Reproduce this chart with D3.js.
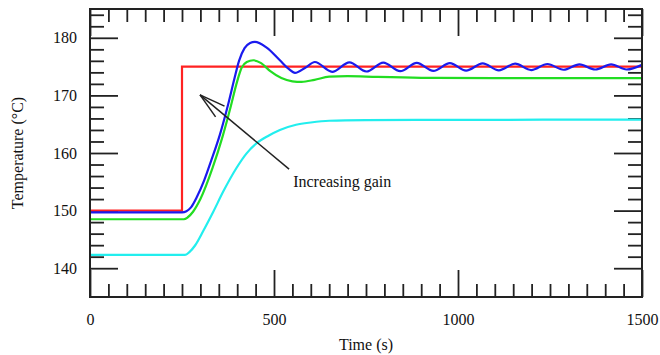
<!DOCTYPE html>
<html>
<head>
<meta charset="utf-8">
<script src="https://cdn.jsdelivr.net/npm/d3@7"></script>
<style>
  body { margin: 0; background: #fff; }
</style>
</head>
<body>
<div id="chart"></div>
<script>
var svgWidth = 660;
var svgHeight = 355;

var margin = { top: 9, right: 18, bottom: 58, left: 90 };
var width = svgWidth - margin.left - margin.right;
var height = svgHeight - margin.top - margin.bottom;

var serif = "'Liberation Serif', 'Times New Roman', 'DejaVu Serif', serif";

// setpoint (step at t = 250 s)
var setpointTime = [0, 250, 1500];
var setpointTemp = [150, 175, 175];

// highest gain, keeps oscillating
var blueTime = [0, 250, 262, 275, 290, 310, 330, 353, 376, 392, 405, 420, 435, 448, 480, 516, 540, 557, 585,
  611, 658, 705, 751, 797, 843, 888, 933, 978, 1022, 1067, 1111, 1155, 1199, 1243, 1287, 1330, 1373, 1416, 1458, 1500];
var blueTemp = [149.7, 149.7, 149.9, 150.6, 152.3, 155.2, 158.8, 163.2, 168.6, 172.8, 176.0, 178.2, 179.1, 179.3, 178.3, 176.1, 174.6, 173.9, 174.8,
  175.8, 174.1, 175.75, 174.15, 175.7, 174.2, 175.65, 174.25, 175.6, 174.3, 175.55, 174.35, 175.5, 174.4, 175.45, 174.45, 175.4, 174.5, 175.4, 174.5, 175.3];

// medium gain
var greenTime = [0, 255, 265, 280, 300, 333, 360, 383, 398, 412, 426, 444, 465, 490, 520, 550, 575, 610, 650, 700, 780, 900, 1100, 1500];
var greenTemp = [148.5, 148.5, 148.8, 149.8, 152.0, 157.4, 162.8, 168.2, 172.0, 174.8, 175.8, 176.1, 175.6, 174.2, 173.0, 172.45, 172.35, 172.7, 173.25, 173.35, 173.2, 173.05, 173.0, 173.0];

// lowest gain
var cyanTime = [0, 258, 270, 285, 308, 335, 362, 398, 425, 453, 485, 516, 560, 600, 650, 750, 1000, 1500];
var cyanTemp = [142.3, 142.3, 142.8, 143.9, 146.5, 149.8, 153.3, 157.4, 159.9, 161.7, 163.0, 164.0, 164.9, 165.3, 165.6, 165.7, 165.75, 165.8];

var xMajorTicks = [0, 500, 1000, 1500];
var yMajorTicks = [140, 150, 160, 170, 180];
var xMinorTicks = d3.range(50, 1500, 50).filter(d => d % 500 != 0);
var yMinorTicks = d3.range(142, 185, 2).filter(d => d % 10 != 0);

// annotation: arrow from label toward curves
var arrowFrom = [541, 157.2];
var arrowTo = [299, 170.1];
var noteAt = [552, 154.1];
var noteText = "Increasing gain";

function zip(ts, vs) {
  return ts.map((t, i) => [t, vs[i]]);
}

var svg = d3.select("#chart")
  .append("svg")
  .attr("width", svgWidth)
  .attr("height", svgHeight)
  .style("font-family", serif);

var chartGroup = svg.append("g")
  .attr("transform", `translate(${margin.left}, ${margin.top})`);

var xScale = d3.scaleLinear().domain([0, 1500]).range([0, width]);
var yScale = d3.scaleLinear().domain([135, 185]).range([height, 0]);

// ticks on all four sides, pointing inward
function drawAxis(axis, transform) {
  var g = chartGroup.append("g")
    .attr("transform", transform)
    .call(axis);
  g.select(".domain").remove();
  g.selectAll(".tick line").attr("stroke", "#222").attr("stroke-width", 1.8);
  g.selectAll("text")
    .style("font-family", serif)
    .style("font-size", "16px")
    .attr("fill", "#111");
  return g;
}

drawAxis(d3.axisBottom(xScale).tickValues(xMinorTicks).tickSize(-13).tickFormat(""), `translate(0,${height})`);
drawAxis(d3.axisBottom(xScale).tickValues(xMajorTicks).tickSize(-27).tickPadding(17).tickFormat(d3.format("d")), `translate(0,${height})`);
drawAxis(d3.axisTop(xScale).tickValues(xMinorTicks).tickSize(-13).tickFormat(""), "translate(0,0)");
drawAxis(d3.axisTop(xScale).tickValues(xMajorTicks).tickSize(-27).tickFormat(""), "translate(0,0)");

drawAxis(d3.axisLeft(yScale).tickValues(yMinorTicks).tickSize(-14).tickFormat(""), "translate(0,0)");
drawAxis(d3.axisLeft(yScale).tickValues(yMajorTicks).tickSize(-28).tickPadding(13).tickFormat(d3.format("d")), "translate(0,0)");
drawAxis(d3.axisRight(yScale).tickValues(yMinorTicks).tickSize(-14).tickFormat(""), `translate(${width},0)`);
drawAxis(d3.axisRight(yScale).tickValues(yMajorTicks).tickSize(-28).tickFormat(""), `translate(${width},0)`);

// curves
var line = d3.line()
  .x(d => xScale(d[0]))
  .y(d => yScale(d[1]))
  .curve(d3.curveMonotoneX);

var stepLine = d3.line()
  .x(d => xScale(d[0]))
  .y(d => yScale(d[1]))
  .curve(d3.curveStepAfter);

chartGroup.append("path")
  .attr("d", stepLine(zip(setpointTime, setpointTemp)))
  .attr("fill", "none").attr("stroke", "#ff2222").attr("stroke-width", 2.2);

chartGroup.append("path")
  .attr("d", line(zip(cyanTime, cyanTemp)))
  .attr("fill", "none").attr("stroke", "#22eeee").attr("stroke-width", 2.2);

chartGroup.append("path")
  .attr("d", line(zip(greenTime, greenTemp)))
  .attr("fill", "none").attr("stroke", "#22dd22").attr("stroke-width", 2.2);

chartGroup.append("path")
  .attr("d", line(zip(blueTime, blueTemp)))
  .attr("fill", "none").attr("stroke", "#1a1aee").attr("stroke-width", 2.2);

// frame
chartGroup.append("rect")
  .attr("x", 0).attr("y", 0)
  .attr("width", width).attr("height", height)
  .attr("fill", "none").attr("stroke", "#222").attr("stroke-width", 2);

// arrow annotation
var x1 = xScale(arrowFrom[0]), y1 = yScale(arrowFrom[1]);
var x2 = xScale(arrowTo[0]), y2 = yScale(arrowTo[1]);
var ang = Math.atan2(y1 - y2, x1 - x2);
var barb = 27, spread = 15 * Math.PI / 180;

var arrowG = chartGroup.append("g")
  .attr("stroke", "#222").attr("stroke-width", 1.5).attr("fill", "none");
arrowG.append("line").attr("x1", x1).attr("y1", y1).attr("x2", x2).attr("y2", y2);
[-spread, spread].forEach(function(s) {
  arrowG.append("line")
    .attr("x1", x2).attr("y1", y2)
    .attr("x2", x2 + barb * Math.cos(ang + s))
    .attr("y2", y2 + barb * Math.sin(ang + s));
});

chartGroup.append("text")
  .attr("x", xScale(noteAt[0]))
  .attr("y", yScale(noteAt[1]))
  .style("font-family", serif)
  .style("font-size", "16px")
  .attr("fill", "#111")
  .text(noteText);

// axis titles
chartGroup.append("text")
  .attr("x", width / 2)
  .attr("y", height + 53)
  .attr("text-anchor", "middle")
  .style("font-family", serif)
  .style("font-size", "16px")
  .attr("fill", "#111")
  .text("Time (s)");

chartGroup.append("text")
  .attr("transform", `translate(${-67},${height / 2}) rotate(-90)`)
  .attr("text-anchor", "middle")
  .style("font-family", serif)
  .style("font-size", "16px")
  .attr("fill", "#111")
  .text("Temperature (°C)");
</script>
</body>
</html>
